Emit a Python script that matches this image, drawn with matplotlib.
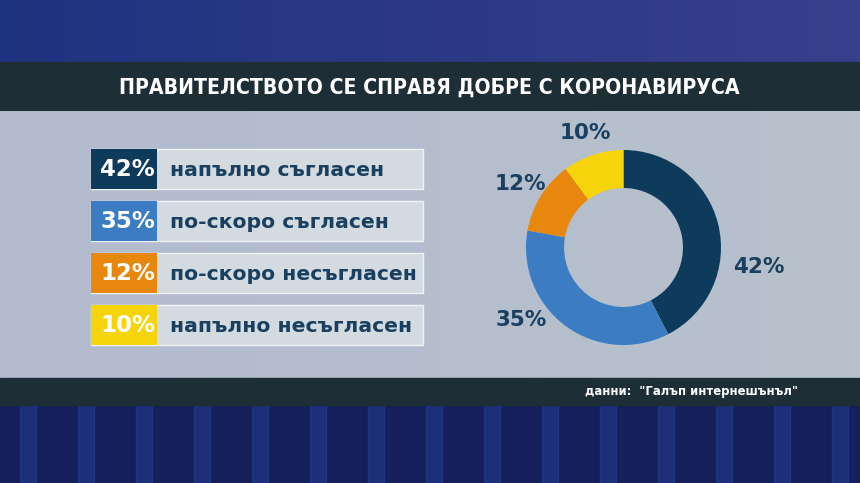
import matplotlib
matplotlib.use("Agg")
import matplotlib.pyplot as plt
from matplotlib.patches import Rectangle
import numpy as np

# ---- data ----
title = "ПРАВИТЕЛСТВОТО СЕ СПРАВЯ ДОБРЕ С КОРОНАВИРУСА"
categories = ["напълно съгласен", "по-скоро съгласен", "по-скоро несъгласен", "напълно несъгласен"]
values = [42, 35, 12, 10]
colors = ["#0e3a5b", "#3c7cc3", "#e8870d", "#f6d40b"]
source = 'данни:  "Галъп интернешънъл"'

W, H = 860, 483
fig = plt.figure(figsize=(W / 100, H / 100), dpi=100)
bg = fig.add_axes([0, 0, 1, 1])
bg.set_xlim(0, W)
bg.set_ylim(H, 0)
bg.axis("off")

# background gradients (top and bottom TV backdrop)
top = np.linspace(0, 1, 256)[None, :]
grad_top = np.zeros((1, 256, 3))
grad_top[..., 0] = 0.12 + 0.10 * top
grad_top[..., 1] = 0.20 + 0.05 * top
grad_top[..., 2] = 0.50 + 0.05 * top
bg.imshow(grad_top, extent=[0, W, 63, 0], aspect="auto", zorder=0)
bg.add_patch(Rectangle((0, 405), W, H - 405, color="#15205a", zorder=0))
for xs in range(0, W, 58):
    bg.add_patch(Rectangle((xs + 20, 405), 16, H - 405, color="#2a48a8", alpha=0.4, zorder=1))

# title bar
bg.add_patch(Rectangle((0, 62), W, 49, color="#1d2e37", zorder=2))
bg.text(429, 88, title, color="white", fontsize=15.2, fontweight="bold",
        stretch="condensed", ha="center", va="center", zorder=3)

# panel
panel = np.linspace(0, 1, 256)[None, :]
grad_p = np.zeros((1, 256, 3))
grad_p[..., 0] = 0.70 + 0.02 * panel
grad_p[..., 1] = 0.73 + 0.03 * panel
grad_p[..., 2] = 0.81 - 0.01 * panel
bg.imshow(grad_p, extent=[0, W, 378, 111], aspect="auto", zorder=2)

# bottom bar
bg.add_patch(Rectangle((0, 378), W, 27, color="#1d2e37", zorder=2))
bg.text(798, 392, source, color="white", fontsize=8.4, fontweight="bold",
        ha="right", va="center", zorder=3)

# legend boxes
tops = [149, 201, 253, 305]
for i, (cat, v, c) in enumerate(zip(categories, values, colors)):
    y0 = tops[i]
    h = 40
    bg.add_patch(Rectangle((91, y0), 332, h, facecolor="#d3dbe1", edgecolor="#f0f3f6",
                           linewidth=1.0, zorder=3))
    bg.add_patch(Rectangle((91, y0), 66, h, facecolor=c, edgecolor="none", zorder=4))
    bg.text(127.5, y0 + h / 2 + 1, f"{v}%", color="white", fontsize=16.5, fontweight="bold",
            ha="center", va="center", zorder=5)
    bg.text(170, y0 + h / 2 + 1, cat, color="#1a3f5f", fontsize=14.7, fontweight="bold",
            ha="left", va="center", zorder=5)

# donut
cx, cy, r = 623.5, 247.5, 97.5
ax = fig.add_axes([(cx - r) / W, 1 - (cy + r) / H, 2 * r / W, 2 * r / H])
ax.pie(values, colors=colors, startangle=90, counterclock=False, radius=1,
       wedgeprops=dict(width=0.39, edgecolor="none"))
ax.set_xlim(-1, 1)
ax.set_ylim(-1, 1)
ax.set_aspect("auto")
ax.axis("off")

# donut labels (placed in pixel coords of the background)
label_pos = [(759, 267), (521, 320), (520, 184), (585, 133)]
for (lx, ly), v in zip(label_pos, values):
    bg.text(lx, ly, f"{v}%", color="#1a3f5f", fontsize=15.5, fontweight="bold",
            ha="center", va="center", zorder=5)

fig.savefig("out.png", dpi=100)
